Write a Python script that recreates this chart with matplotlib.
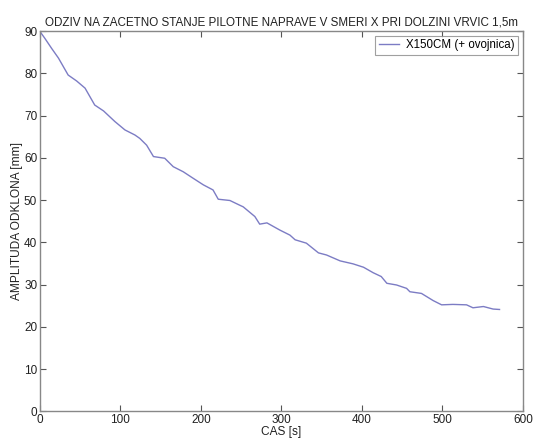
import matplotlib
matplotlib.use("Agg")
import matplotlib.pyplot as plt

# Odziv pilotne naprave - amplituda odklona skozi cas
cas = [0, 6, 14.5, 23, 29, 35, 45.5, 56, 62, 68, 79, 93, 105.6, 118, 124,
       132.5, 141, 155, 165.6, 178, 190, 203, 215, 221.5, 236, 248, 252.5,
       267, 273, 282, 298, 310.6, 317, 331, 346, 356, 373, 389, 402, 414,
       424, 431, 443, 455.5, 459.6, 474, 488.6, 499, 513, 530, 538, 551,
       563, 571]
amplituda = [89.9, 88.3, 85.9, 83.6, 81.6, 79.6, 78.2, 76.5, 74.5, 72.5,
             71.1, 68.6, 66.6, 65.4, 64.6, 63.0, 60.3, 59.9, 57.9, 56.7,
             55.2, 53.6, 52.4, 50.2, 49.9, 48.8, 48.4, 46.1, 44.3, 44.6,
             42.9, 41.7, 40.6, 39.8, 37.5, 37.0, 35.6, 34.9, 34.1, 32.8,
             31.9, 30.3, 29.9, 29.1, 28.3, 27.9, 26.2, 25.2, 25.3, 25.2,
             24.5, 24.8, 24.2, 24.1]

x_ticks = [0, 100, 200, 300, 400, 500, 600]
y_ticks = [0, 10, 20, 30, 40, 50, 60, 70, 80, 90]

plt.rcParams['font.family'] = ['Liberation Sans', 'DejaVu Sans']

fig = plt.figure(figsize=(5.33, 4.38), dpi=100)
ax = fig.add_axes([0.075, 0.061, 0.906, 0.868])

ax.plot(cas, amplituda, color='#7c7cc4', linewidth=1.0,
        label='X150CM (+ ovojnica)')

ax.set_xlim(0, 600)
ax.set_ylim(0, 90)
ax.set_xticks(x_ticks)
ax.set_yticks(y_ticks)
ax.tick_params(direction='in', top=True, right=True, length=4,
               labelsize=8.5, colors='#555555', labelcolor='#222222', pad=2)
for s in ax.spines.values():
    s.set_color('#888888')
    s.set_linewidth(1.0)

ax.set_title('ODZIV NA ZACETNO STANJE PILOTNE NAPRAVE V SMERI X PRI DOLZINI VRVIC 1,5m',
             fontsize=8.4, color='#222222', pad=4)
ax.set_xlabel('CAS [s]', fontsize=8.6, color='#222222', labelpad=0)
ax.set_ylabel('AMPLITUDA ODKLONA [mm]', fontsize=8.6, color='#222222', labelpad=1)

leg = ax.legend(loc='upper right', fontsize=8.3, fancybox=False,
                handlelength=1.8, handletextpad=0.6, borderpad=0.3,
                borderaxespad=0.4)
leg.get_frame().set_edgecolor('#888888')
leg.get_frame().set_linewidth(0.8)

fig.savefig('out.png', dpi=100)
